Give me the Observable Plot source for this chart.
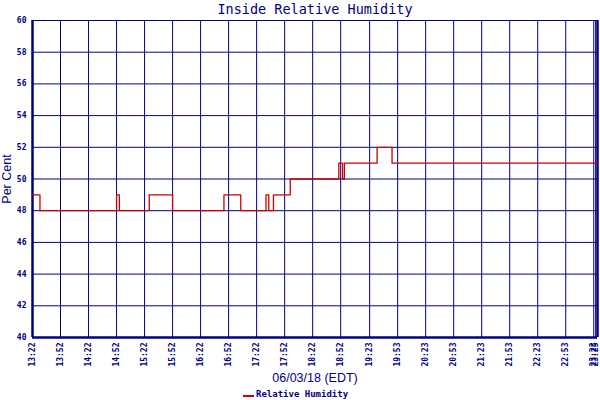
<!DOCTYPE html>
<html><head><meta charset="utf-8">
<script src="https://cdn.jsdelivr.net/npm/d3@7"></script>
<script src="https://cdn.jsdelivr.net/npm/@observablehq/plot@0.6"></script>
<style>
body{margin:0;background:#fff;}
#legend{position:relative;height:14px;font:bold 9px "DejaVu Sans Mono",monospace;color:#000080;}
#legend .sw{position:absolute;left:243px;top:9px;width:11px;height:2px;background:#cc0000;}
#legend .tx{position:absolute;left:256px;top:3px;}
</style></head>
<body>
<div id="chart"></div>
<div id="legend"><span class="sw"></span><span class="tx">Relative Humidity</span></div>
<script>
const title = "Inside Relative Humidity";
const xLabel = "06/03/18 (EDT)";
const yLabel = "Per Cent";
const seriesName = "Relative Humidity";
const times = ["13:22","13:30","14:52","14:55","15:27","15:52","16:47","17:05","17:32","17:35","17:40","17:58","18:50","18:54","18:56","19:31","19:47","23:27"];
const humidity = [49,48,49,48,49,48,49,48,49,48,49,50,51,50,51,52,51,51];
const xTickLabels = ["13:22","13:52","14:22","14:52","15:22","15:52","16:22","16:52","17:22","17:52","18:22","18:52","19:23","19:53","20:23","20:53","21:23","21:53","22:23","22:53","23:23","23:25"];
const yTicks = [40,42,44,46,48,50,52,54,56,58,60];

const toMin = s => { const [h,m] = s.split(":").map(Number); return h*60+m; };
const fmt = m => String(Math.floor(m/60)).padStart(2,"0")+":"+String(m%60).padStart(2,"0");
const data = times.map((t,i)=>({t:toMin(t), v:humidity[i]}));
const xTicks = xTickLabels.map(toMin);
const navy = "#000080";

const plot = Plot.plot({
  width: 600, height: 386,
  marginLeft: 32, marginRight: 3, marginTop: 20, marginBottom: 49,
  style: {background:"#fff", color: navy, fontFamily:"'DejaVu Sans Mono', monospace", fontSize:"8px", fontWeight:"bold"},
  x: {type:"linear", domain:[toMin("13:22"), toMin("23:27")], ticks: xTicks, tickFormat: fmt, tickRotate: -90, tickSize: 0, tickPadding: 5,
      label: xLabel, labelAnchor: "center", labelArrow: "none", labelOffset: 44},
  y: {domain:[40,60], ticks: yTicks, tickSize: 0, tickPadding: 6, label: yLabel, labelAnchor:"center", labelArrow:"none", labelOffset: 30},
  marks: [
    Plot.gridX(xTicks, {stroke: navy, strokeOpacity: 1, strokeWidth: 1}),
    Plot.gridY(yTicks, {stroke: navy, strokeOpacity: 1, strokeWidth: 1}),
    Plot.ruleX([toMin("13:22"), toMin("23:27")], {stroke: navy, strokeWidth: 2.5}),
    Plot.ruleY([40], {stroke: navy, strokeWidth: 2.5}),
    Plot.lineY(data, {x:"t", y:"v", curve:"step-after", stroke:"#cc0000", strokeWidth: 1.3}),
    Plot.text([title], {frameAnchor:"top", dy:-16, fontSize: 13.5, fontWeight:"normal", fill: navy, fontFamily:"'DejaVu Sans Mono', monospace"})
  ]
});
d3.select(plot).selectAll("[aria-label='y-axis label'] text, [aria-label='x-axis label'] text")
  .style("font-family","'Liberation Sans', Arial, sans-serif").style("font-size","12.5px").style("font-weight","normal");
document.getElementById("chart").append(plot);
</script>
</body></html>
